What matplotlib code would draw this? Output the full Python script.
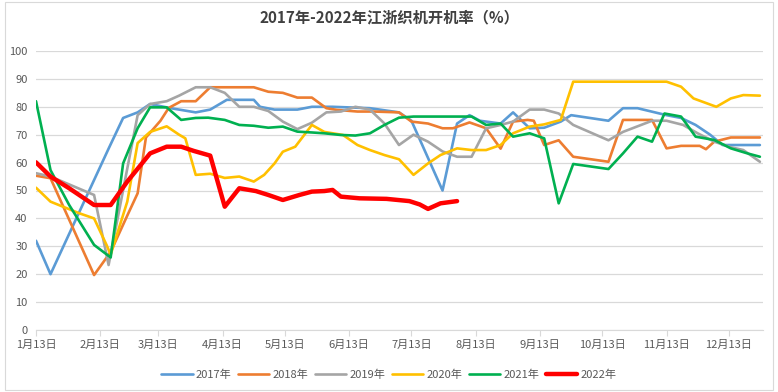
import matplotlib
matplotlib.use("Agg")
import matplotlib.pyplot as plt
from matplotlib.patches import Rectangle

plt.rcParams['font.family'] = ['Noto Sans CJK SC', 'DejaVu Sans']

title = "2017年-2022年江浙织机开机率（%）"
series_names = ["2017年", "2018年", "2019年", "2020年", "2021年", "2022年"]
colors = ["#5B9BD5", "#ED7D31", "#A5A5A5", "#FFC000", "#00B050", "#FF0000"]

# x = day of year, y = operating rate (%)
d2017 = [13, 20, 48, 55, 62, 68, 78, 90, 97, 105, 118, 121, 128, 139, 146, 156, 174, 188, 194, 209, 216, 222,
         227, 237, 243, 251, 258, 266, 271, 289, 296, 303, 317, 324, 331, 338, 344, 362]
v2017 = [32, 20, 65, 76, 78, 81, 79.5, 78, 79, 82.5, 82.5, 80, 79, 79, 80, 80, 79.5, 78, 75, 50, 74, 77,
         75, 74, 78, 72.3, 72.5, 74.7, 77, 75, 79.5, 79.5, 77, 76, 73.5, 70, 66.3, 66.3]

d2018 = [13, 20, 41, 49, 57, 62, 66, 73, 77, 83, 90, 97, 104, 118, 125, 132, 139, 146, 153, 158, 168, 176, 188,
         194, 202, 209, 214, 222, 230, 237, 243, 250, 253, 258, 265, 272, 289, 296, 310, 317, 324, 333, 336, 340, 348, 362]
v2018 = [55.3, 54.4, 19.7, 28, 41, 49, 69, 75, 79.6, 82, 82, 87, 87, 87, 85.4, 85, 83.3, 83.3, 79.5, 78.9, 78.3, 78.3, 78,
         74.7, 74, 72.3, 72.3, 74.4, 72.3, 65, 74.7, 75.3, 75, 66.3, 68, 62.1, 60.3, 75.3, 75.3, 65.1, 66, 66, 64.8, 67.5, 69, 69]

d2019 = [13, 20, 41, 48, 62, 68, 76, 82, 90, 97, 104, 111, 118, 125, 132, 139, 146, 153, 160, 167, 174, 181, 188,
         195, 202, 209, 216, 223, 230, 237, 243, 251, 258, 265, 272, 289, 296, 310, 317, 325, 332, 340, 348, 354, 362]
v2019 = [56.2, 55, 48.4, 23.3, 77, 81, 82, 84, 87, 87, 85, 80, 80, 78.5, 74.7, 72, 74.3, 78, 78.3, 80, 79, 74, 66.3,
         70, 67.5, 64, 62.1, 62.1, 72.3, 73.5, 74.7, 79, 79, 77.6, 73.5, 68, 71, 75, 75, 73.5, 70.5, 67.5, 65.5, 64.5, 60.3]

d2020 = [13, 20, 26, 34, 41, 47, 49, 57, 62, 68, 76, 82, 85, 90, 97, 104, 111, 118, 123, 128, 132, 138, 146, 152,
         161, 168, 174, 181, 188, 195, 202, 208, 216, 223, 230, 237, 243, 251, 258, 266, 272, 317, 324, 330, 341, 348, 354, 362]
v2020 = [51, 46, 44.2, 41.8, 40, 30.5, 27, 46, 67, 71, 73, 70, 68.7, 55.6, 56, 54.5, 55, 53.2, 55.6, 59.7, 63.9, 65.7, 73.5, 71,
         69.9, 66.3, 64.5, 62.7, 61.2, 55.6, 59.7, 62.7, 65.1, 64.5, 64.5, 66.3, 70.5, 72.9, 73.7, 75.3, 89, 89, 87.2, 83, 80, 83, 84.2, 84]

d2021 = [13, 20, 29, 41, 49, 55, 62, 68, 76, 83, 90, 96, 104, 111, 118, 125, 132, 139, 146, 152, 160, 167, 174, 181,
         188, 195, 223, 230, 237, 243, 251, 258, 265, 272, 289, 296, 303, 310, 316, 324, 331, 340, 348, 356, 362]
v2021 = [82, 57.3, 44.8, 30.5, 26, 59.7, 72.3, 79.8, 79.8, 75.3, 76, 76.1, 75.3, 73.5, 73.2, 72.5, 72.9, 71.1, 70.8, 70.5, 69.9, 69.7, 70.5, 73.5,
         76.1, 76.5, 76.5, 73.5, 74, 69.3, 70.5, 68.7, 45.4, 59.5, 57.7, 63.3, 69.3, 67.5, 77.6, 76.5, 69.3, 68.1, 65.1, 63.3, 62.1]

d2022 = [13, 20, 29, 41, 49, 57, 68, 76, 83, 89, 97, 104, 111, 119, 125, 132, 140, 146, 152, 156, 160, 169, 182, 193, 198, 202, 208, 216]
v2022 = [60.1, 55, 50.8, 44.8, 44.8, 53.2, 63.3, 65.7, 65.7, 64.2, 62.5, 44.2, 50.8, 49.8, 48.4, 46.6, 48.4, 49.6, 49.8, 50.2, 47.8, 47.2, 47, 46.2, 45, 43.4, 45.4, 46.2]

tick_days = [13, 44, 72, 103, 133, 164, 194, 225, 256, 286, 317, 347]
tick_labels = ["1月13日", "2月13日", "3月13日", "4月13日", "5月13日", "6月13日",
               "7月13日", "8月13日", "9月13日", "10月13日", "11月13日", "12月13日"]

xs = [d2017, d2018, d2019, d2020, d2021, d2022]
ys = [v2017, v2018, v2019, v2020, v2021, v2022]
widths = [1.9, 1.9, 1.9, 1.9, 1.9, 3.2]

fig = plt.figure(figsize=(7.78, 3.92), dpi=100)
ax = fig.add_axes([36/778, 62/392, (763-36)/778, (330-51)/392])

for x, y, c, w, n in zip(xs, ys, colors, widths, series_names):
    ax.plot(x, y, color=c, lw=w, label=n, solid_joinstyle='round', solid_capstyle='round')

ax.set_xlim(13, 363.5)
ax.set_ylim(0, 100)
ax.set_yticks(range(0, 101, 10))
ax.set_xticks(tick_days)
ax.set_xticklabels(tick_labels)
ax.grid(axis='y', color='#D9D9D9', lw=0.9)
ax.set_axisbelow(True)
for s in ['top', 'right', 'left']:
    ax.spines[s].set_visible(False)
ax.spines['bottom'].set_color('#D9D9D9')
ax.tick_params(axis='y', length=0, labelsize=8, labelcolor='#595959', pad=6)
ax.tick_params(axis='x', length=4, color='#D9D9D9', labelsize=8, labelcolor='#595959', pad=3)

fig.text(0.5, 1 - 17/392, title, ha='center', va='center', fontsize=11, fontweight='bold', color='#404040')

leg = fig.legend(loc='center', bbox_to_anchor=(0.5, 1 - 375/392), ncol=6, frameon=False,
                 fontsize=8, handlelength=2.8, columnspacing=0.6, handletextpad=0.3)
for t in leg.get_texts():
    t.set_color('#595959')

fig.patches.append(Rectangle((5/778, 2/392), 768/778, 388/392, transform=fig.transFigure,
                             fill=False, edgecolor='#D9D9D9', lw=0.8))

fig.savefig('out.png', dpi=100)
